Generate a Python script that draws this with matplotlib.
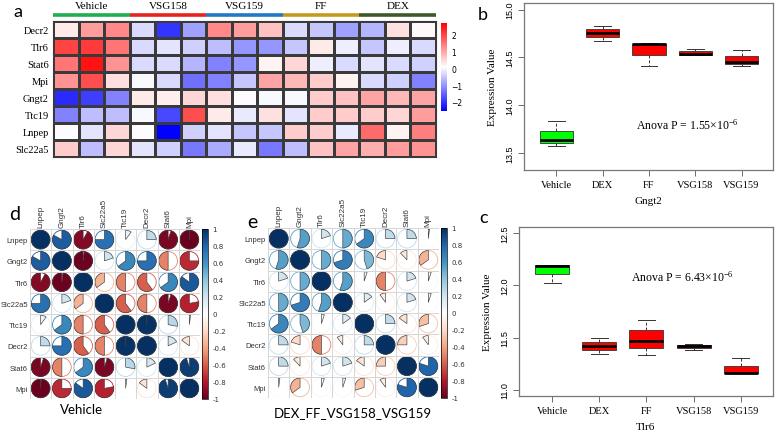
import numpy as np
import matplotlib
matplotlib.use("Agg")
import matplotlib.pyplot as plt
from matplotlib.colors import LinearSegmentedColormap, Normalize
from matplotlib.patches import Wedge, Circle
from matplotlib.cm import ScalarMappable

W, H = 778, 439
SERIF = 'Liberation Serif'
SANS = 'Liberation Sans'
TITLE = 'Lato'

plt.rcParams['mathtext.fontset'] = 'custom'
plt.rcParams['mathtext.rm'] = SERIF
plt.rcParams['mathtext.it'] = SERIF


def px(l, t, r, b):
    # pixel box -> figure fraction
    return [l / W, 1 - b / H, (r - l) / W, (b - t) / H]


# ---------------- data ----------------
heat_genes = ['Decr2', 'Tlr6', 'Stat6', 'Mpi', 'Gngt2', 'Ttc19', 'Lnpep', 'Slc22a5']
heat_groups = ['Vehicle', 'VSG158', 'VSG159', 'FF', 'DEX']
heat_group_colors = ['#1fae52', '#e8231e', '#1f78c8', '#c49a1c', '#3d5a2a']
heat_values = np.array([
    [0.3, 1.1, 1.3, -0.3, -2.0, -0.9, 1.3, 1.1, 0.7, -0.3, -0.5, -0.9, -0.7, 0.4, 0.15],
    [2.0, 2.1, 1.5, -0.3, -0.2, -0.4, -0.6, -1.0, -1.0, -0.5, 0.3, -0.1, -0.5, -0.1, -0.3],
    [1.5, 2.5, 1.2, -0.3, -0.3, -0.7, -1.2, -1.0, 0.2, 0.5, -0.1, -0.3, -0.2, -0.3, -0.4],
    [1.2, 1.9, 0.4, 0.0, -0.3, -1.4, -1.2, -0.5, 1.0, 0.8, 0.6, 0.2, -0.3, -0.4, -1.2],
    [-2.1, -1.9, -1.2, 0.3, 0.25, 0.5, 0.4, 0.05, 0.0, 0.0, 0.6, 0.7, 1.0, 0.8, 1.0],
    [-1.2, -0.6, -0.6, 0.0, -1.8, 1.9, 0.3, -0.15, 0.4, -0.2, 0.6, 0.6, 0.6, 0.5, 1.1],
    [0.05, -0.2, 0.5, 0.05, -2.6, -0.4, -0.2, -0.5, -0.5, 0.6, 0.6, -0.15, 1.6, 0.2, 1.4],
    [0.6, -0.6, 0.5, -0.2, -0.4, -1.3, -0.8, -0.15, -1.3, -0.6, 0.7, 1.0, 0.9, 1.1, 1.2],
])
heat_ticks = [-2, -1, 0, 1, 2]

box_groups = ['Vehicle', 'DEX', 'FF', 'VSG158', 'VSG159']
box_colors = ['#00ff00', '#ff0000', '#ff0000', '#ff0000', '#ff0000']
gngt2_values = [[13.57, 13.63, 13.83], [14.67, 14.76, 14.83], [14.41, 14.64, 14.65],
                [14.52, 14.54, 14.59], [14.41, 14.45, 14.58]]
gngt2_ticks = [13.5, 14.0, 14.5, 15.0]
gngt2_p = r'Anova P = 1.55$\times$10$^{-6}$'
tlr6_values = [[12.02, 12.19, 12.20], [11.34, 11.42, 11.50], [11.33, 11.47, 11.67],
               [11.38, 11.42, 11.44], [11.16, 11.16, 11.30]]
tlr6_ticks = [11.0, 11.5, 12.0, 12.5]
tlr6_p = r'Anova P = 6.43$\times$10$^{-6}$'

corr_genes = ['Lnpep', 'Gngt2', 'Tlr6', 'Slc22a5', 'Ttc19', 'Decr2', 'Stat6', 'Mpi']
corr_vehicle = np.array([
    [1.00, 0.83, -0.92, 0.75, 0.10, 0.25, -0.95, -0.99],
    [0.83, 1.00, -0.98, 0.20, 0.65, 0.75, -0.50, -0.75],
    [-0.92, -0.98, 1.00, -0.35, -0.50, -0.60, 0.65, 0.85],
    [0.75, 0.20, -0.35, 1.00, -0.60, -0.50, -0.95, -0.78],
    [0.10, 0.65, -0.50, -0.60, 1.00, 0.99, 0.28, 0.02],
    [0.25, 0.75, -0.60, -0.50, 0.99, 1.00, 0.18, -0.15],
    [-0.95, -0.50, 0.65, -0.95, 0.28, 0.18, 1.00, 0.95],
    [-0.99, -0.75, 0.85, -0.78, 0.02, -0.15, 0.95, 1.00],
])
corr_treated = np.array([
    [1.00, 0.55, 0.20, 0.50, 0.65, 0.25, 0.25, 0.02],
    [0.55, 1.00, 0.50, 0.70, 0.45, -0.20, -0.12, -0.35],
    [0.20, 0.50, 1.00, 0.55, 0.05, -0.50, 0.20, 0.05],
    [0.50, 0.70, 0.55, 1.00, 0.15, -0.10, 0.20, 0.05],
    [0.65, 0.45, 0.05, 0.15, 1.00, 0.25, -0.15, -0.30],
    [0.25, -0.20, -0.50, -0.10, 0.25, 1.00, -0.25, -0.10],
    [0.25, -0.12, 0.20, 0.20, -0.15, -0.25, 1.00, 0.80],
    [0.02, -0.35, 0.05, 0.05, -0.30, -0.10, 0.80, 1.00],
])

fig = plt.figure(figsize=(W / 100, H / 100), dpi=100)

# ---------------- a: heatmap ----------------
heat_cmap = LinearSegmentedColormap.from_list('bwr3', ['#0000ff', '#ffffff', '#ff0000'])
heat_norm = Normalize(vmin=-2.55, vmax=2.7)
ax = fig.add_axes(px(53, 22, 436, 158))
ax.pcolormesh(heat_values, cmap=heat_cmap, norm=heat_norm, edgecolors='#3a3a3a', linewidth=0.9)
ax.set_xlim(0, heat_values.shape[1])
ax.set_ylim(heat_values.shape[0], 0)
ax.set_xticks([])
ax.set_yticks(np.arange(len(heat_genes)) + 0.5, heat_genes, fontfamily=SERIF, fontsize=7.5)
ax.tick_params(length=0, pad=3)
for s in ax.spines.values():
    s.set_color('#3a3a3a')
n_rep = heat_values.shape[1] // len(heat_groups)
for k, (g, c) in enumerate(zip(heat_groups, heat_group_colors)):
    ax.plot([k * n_rep, (k + 1) * n_rep], [-0.33, -0.33], color=c, lw=2.6,
            solid_capstyle='butt', clip_on=False)
    ax.text(k * n_rep + n_rep / 2, -0.9, g, ha='center', va='center',
            fontfamily=SERIF, fontsize=8)
cax = fig.add_axes(px(441, 24, 447, 112))
cb = fig.colorbar(ScalarMappable(heat_norm, heat_cmap), cax=cax, ticks=heat_ticks)
cb.outline.set_visible(False)
cb.ax.tick_params(length=0, labelsize=5.5, pad=3)
fig.text(18 / W, 1 - 12 / H, 'a', fontfamily=TITLE, fontsize=13, ha='center', va='center')


# ---------------- b, c: boxplots ----------------
def draw_box(rect, values, ylim, yticks, gene, ptext, ptxt_xy):
    ax = fig.add_axes(rect)
    bp = ax.boxplot(values, positions=np.arange(1, len(values) + 1), widths=0.72,
                    whis=(0, 100), patch_artist=True, showfliers=False,
                    capwidths=0.36,
                    medianprops=dict(color='black', lw=2),
                    whiskerprops=dict(color='#333333', lw=0.7, ls=(0, (3, 2))),
                    capprops=dict(color='#333333', lw=0.7),
                    boxprops=dict(edgecolor='#333333', lw=0.6))
    for patch, c in zip(bp['boxes'], box_colors):
        patch.set_facecolor(c)
    ax.set_xlim(0.3, 5.68)
    ax.set_ylim(*ylim)
    ax.set_xticks(np.arange(1, len(values) + 1), box_groups, fontfamily=SERIF, fontsize=7.5)
    ax.set_yticks(yticks, [f'{t:.1f}' for t in yticks], fontfamily=SANS, fontsize=6.5,
                  rotation=90, va='center')
    ax.tick_params(length=4, width=0.6, color='#555555', pad=3)
    for s in ax.spines.values():
        s.set_color('#777777')
        s.set_linewidth(0.9)
    ax.set_ylabel('Expression Value', fontfamily=SERIF, fontsize=8, labelpad=6)
    ax.set_xlabel(gene, fontfamily=SERIF, fontsize=8, labelpad=5)
    ax.text(ptxt_xy[0], ptxt_xy[1], ptext, transform=ax.transAxes, ha='center',
            va='center', fontfamily=SERIF, fontsize=8.5)
    return ax


draw_box(px(524, 4, 773, 171), gngt2_values, (13.32, 15.07), gngt2_ticks, 'Gngt2',
         gngt2_p, (0.655, 0.275))
draw_box(px(519, 228, 773, 397), tlr6_values, (10.94, 12.56), tlr6_ticks, 'Tlr6',
         tlr6_p, (0.645, 0.71))
fig.text(483 / W, 1 - 15 / H, 'b', fontfamily=TITLE, fontsize=13, ha='center', va='center')
fig.text(484 / W, 1 - 218 / H, 'c', fontfamily=TITLE, fontsize=13, ha='center', va='center')

# ---------------- d, e: correlation pies ----------------
corr_cmap = LinearSegmentedColormap.from_list('corr', [
    '#67001F', '#B2182B', '#D6604D', '#F4A582', '#FDDBC7', '#FFFFFF',
    '#D1E5F0', '#92C5DE', '#4393C3', '#2166AC', '#053061'])
corr_norm = Normalize(vmin=-1, vmax=1)


def draw_corr(rect, crect, mat, title, title_xy):
    ax = fig.add_axes(rect)
    n = len(corr_genes)
    ax.set_xlim(0, n)
    ax.set_ylim(0, n)
    for i in range(n):
        for j in range(n):
            r = mat[i, j]
            cx, cy = j + 0.5, n - 0.5 - i
            col = corr_cmap(corr_norm(r))
            ax.add_patch(Circle((cx, cy), 0.44, fill=False, ec=col, lw=0.6))
            if r >= 0:
                t1, t2 = 90 - 360 * r, 90
            else:
                t1, t2 = 90, 90 - 360 * r
            ax.add_patch(Wedge((cx, cy), 0.44, t1, t2, fc=col, ec='#3c3c3c', lw=0.45))
    ax.hlines(np.arange(n + 1), 0, n, color='#d6d6d6', lw=0.7)
    ax.vlines(np.arange(n + 1), 0, n, color='#d6d6d6', lw=0.7)
    for s in ax.spines.values():
        s.set_visible(False)
    ax.xaxis.tick_top()
    ax.set_xticks(np.arange(n) + 0.5, corr_genes, rotation=90, fontfamily=SANS,
                  fontsize=5.8, color='#333333')
    ax.set_yticks(n - 0.5 - np.arange(n), corr_genes, fontfamily=SANS, fontsize=5.5,
                  color='#333333')
    ax.tick_params(length=0, pad=1.5)
    cax = fig.add_axes(crect)
    ticks = np.round(np.linspace(-1, 1, 11), 1) + 0.0
    cb = fig.colorbar(ScalarMappable(corr_norm, corr_cmap), cax=cax, ticks=ticks)
    cb.ax.set_yticklabels([f'{t:g}' for t in ticks])
    cb.outline.set_linewidth(0.5)
    cb.ax.tick_params(length=0, labelsize=5, pad=3, labelcolor='#333333')
    fig.text(title_xy[0] / W, 1 - title_xy[1] / H, title, fontfamily=TITLE, fontsize=9.5,
             ha='center', va='center')


draw_corr(px(30, 230, 200, 400), px(202, 230, 208, 400), corr_vehicle, 'Vehicle', (82, 410))
draw_corr(px(268, 229, 439, 399), px(441, 229, 447, 399), corr_treated,
          'DEX_FF_VSG158_VSG159', (353, 413))
fig.text(15 / W, 1 - 215 / H, 'd', fontfamily=TITLE, fontsize=14, ha='center', va='center')
fig.text(252 / W, 1 - 222 / H, 'e', fontfamily=TITLE, fontsize=14, ha='center', va='center')

fig.savefig('out.png', dpi=100)
